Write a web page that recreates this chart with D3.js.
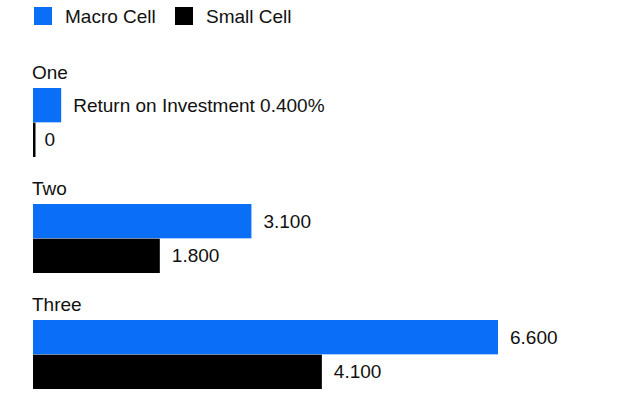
<!DOCTYPE html>
<html><head><meta charset="utf-8">
<script src="https://cdn.jsdelivr.net/npm/d3@7"></script>
<style>html,body{margin:0;padding:0;background:#fff;}svg{display:block;font-family:"Liberation Sans",Arial,sans-serif;}</style>
</head><body>
<svg id="c" width="638" height="401"></svg>
<script>
const categories = ["One", "Two", "Three"];
const seriesNames = ["Macro Cell", "Small Cell"];
const macroCell = [0.4, 3.1, 6.6];
const smallCell = [0, 1.8, 4.1];
const seriesColors = ["#0b6ef7", "#000000"];

const svg = d3.select("#c");
const x = d3.scaleLinear().domain([0, 6.6]).range([33, 498]);
const yGroup = d3.scaleBand().domain(categories).range([57, 405]).paddingInner(0);
const ySub = d3.scaleBand().domain(seriesNames).range([31, 100]).paddingInner(0.01);
const fmt = d3.format(".3f");
const fs = 19;

// legend
const leg = svg.append("g");
const legX = [34, 175];
seriesNames.forEach((s, i) => {
  leg.append("rect").attr("x", legX[i]).attr("y", 7).attr("width", 18).attr("height", 18).attr("fill", seriesColors[i]);
  leg.append("text").attr("x", legX[i] + 31).attr("y", 16).attr("dy", "0.35em")
    .attr("font-size", fs).attr("fill", "#111").text(s);
});

const data = categories.map((c, i) => ({cat: c, vals: [macroCell[i], smallCell[i]]}));
const g = svg.selectAll("g.grp").data(data).join("g").attr("class", "grp")
  .attr("transform", d => `translate(0,${yGroup(d.cat)})`);

g.append("text").attr("x", 32).attr("y", 15).attr("dy", "0.35em")
  .attr("font-size", fs).attr("fill", "#111").text(d => d.cat);

g.each(function(d, gi) {
  const gg = d3.select(this);
  d.vals.forEach((v, si) => {
    const w = Math.max(x(v) - x(0), 2.5);
    gg.append("rect").attr("x", x(0)).attr("y", ySub(seriesNames[si]))
      .attr("width", w).attr("height", ySub.bandwidth()).attr("fill", seriesColors[si]);
    let label = fmt(v);
    if (v === 0) label = "0";
    if (gi === 0 && si === 0) label = "Return on Investment " + label + "%";
    gg.append("text").attr("x", x(0) + w + (v === 0 ? 9 : 12)).attr("y", ySub(seriesNames[si]) + ySub.bandwidth() / 2)
      .attr("dy", "0.35em").attr("font-size", fs).attr("fill", "#111").text(label);
  });
});
</script>
</body></html>
